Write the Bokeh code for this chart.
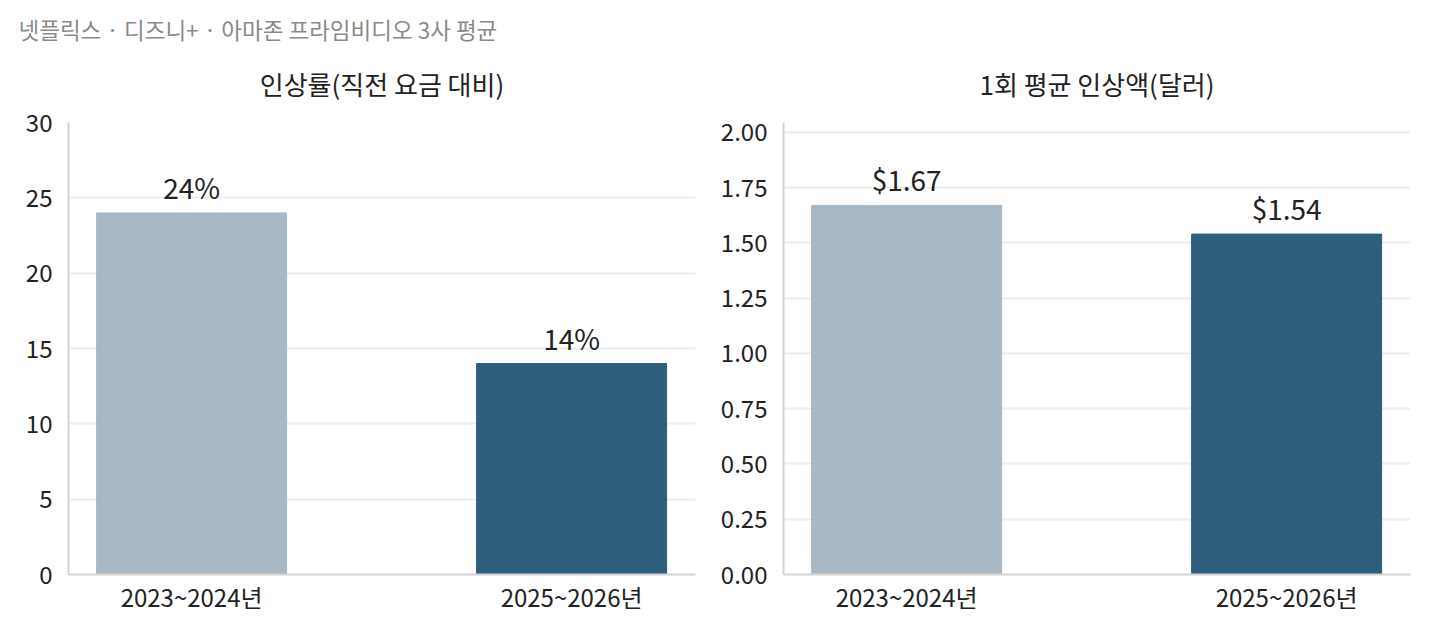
from bokeh.plotting import figure
from bokeh.models import ColumnDataSource, FixedTicker, Title, NumeralTickFormatter
from bokeh.layouts import row
from bokeh.embed import file_html
from bokeh.resources import INLINE
from bokeh.core.properties import value

FONT = "Noto Sans CJK KR"

periods = ["2023~2024년", "2025~2026년"]
rate_pct = [24, 14]
amount_usd = [1.67, 1.54]
bar_colors = ["#A9B8C5", "#2F5E7C"]
rate_ticks = [0, 5, 10, 15, 20, 25, 30]
amount_ticks = [0.0, 0.25, 0.5, 0.75, 1.0, 1.25, 1.5, 1.75, 2.0]

main_title = "넷플릭스 · 디즈니+ · 아마존 프라임비디오 3사 평균"
left_title = "인상률(직전 요금 대비)"
right_title = "1회 평균 인상액(달러)"

xs = list(range(len(periods)))


def make_fig(title, vals, labels, yend, ticks, fmt, width, left, right, top_title):
    p = figure(width=width, height=624, output_backend="svg", toolbar_location=None,
               x_range=(-0.324, 1.326), y_range=(0, yend),
               min_border_left=left, min_border_right=right, min_border_bottom=50,
               min_border_top=0)
    # outermost title: overall heading (blank on the right figure)
    p.title.text = top_title if top_title else " "
    p.title.align = "left"
    p.title.offset = 18 - left if top_title else 0
    p.title.text_font = FONT
    p.title.text_font_size = "22.5px"
    p.title.text_font_style = "normal"
    p.title.text_color = "#8a8a8a" if top_title else "#ffffff"
    p.title.standoff = 21
    # spacer closest to the frame, then the panel title
    spacer = Title(text=" ", text_font=FONT, text_font_size="1px", text_color="#ffffff",
                   standoff=10)
    p.add_layout(spacer, "above")
    sub = Title(text=title, align="center", text_font=FONT, text_font_size="26px",
                text_font_style="normal", text_color="#222222", standoff=15)
    p.add_layout(sub, "above")

    src = ColumnDataSource(dict(x=xs, top=vals, color=bar_colors, label=labels))
    p.vbar(x="x", top="top", width=0.5, color="color", source=src)
    p.text(x="x", y="top", text="label", source=src, text_align="center",
           text_baseline="bottom", y_offset=-6, text_font=value(FONT),
           text_font_size="28px", text_color="#222222")

    p.xaxis.ticker = FixedTicker(ticks=xs)
    p.xaxis.major_label_overrides = {i: s for i, s in enumerate(periods)}
    p.yaxis.ticker = FixedTicker(ticks=ticks)
    if fmt:
        p.yaxis.formatter = NumeralTickFormatter(format=fmt)
    for ax in (p.xaxis, p.yaxis):
        ax.major_tick_line_color = None
        ax.minor_tick_line_color = None
        ax.axis_line_color = "#d4d4d4"
        ax.axis_line_width = 2
        ax.major_label_text_font = FONT
        ax.major_label_text_font_size = "24px"
        ax.major_label_text_color = "#222222"
    p.yaxis.major_label_standoff = 10
    p.xaxis.major_label_standoff = -2
    p.xgrid.grid_line_color = None
    p.ygrid.grid_line_color = "#ececec"
    p.ygrid.grid_line_width = 2
    p.outline_line_color = None
    p.background_fill_color = "white"
    return p


p1 = make_fig(left_title, rate_pct, [f"{v}%" for v in rate_pct], 30, rate_ticks, None,
              717, 68, 22, main_title)
p2 = make_fig(right_title, amount_usd, [f"${v:.2f}" for v in amount_usd], 2.045, amount_ticks,
              "0.00", 721, 60, 28, None)

layout = row(p1, p2)
open("out.html", "w").write(file_html(layout, INLINE))
